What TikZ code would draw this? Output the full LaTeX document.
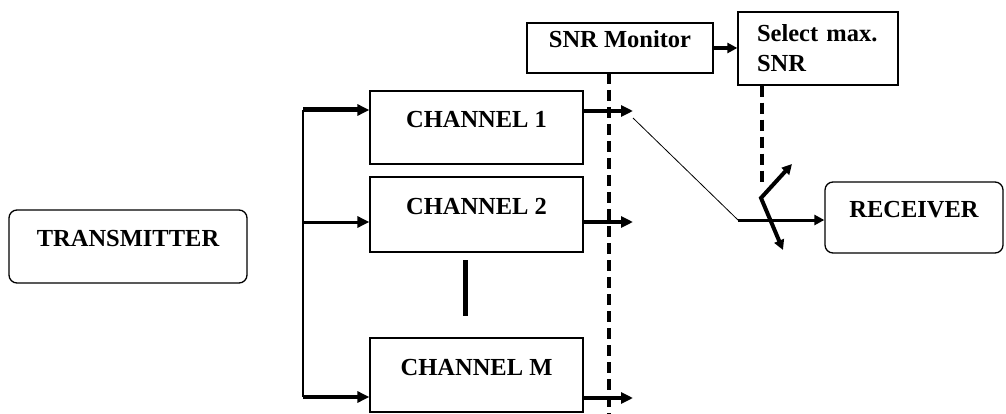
\documentclass[tikz,border=0pt]{standalone}
\usepackage{fontspec}
\setmainfont{Liberation Serif}
\usetikzlibrary{arrows.meta}

\begin{document}
\begin{tikzpicture}[x=1pt,y=-1pt]
			\tikzstyle{block}=[draw=black,line width=1.3pt,inner sep=0pt,font=\fontsize{24.5}{30}\selectfont\bfseries]
			\tikzstyle{rblock}=[block,rounded corners=8pt]
			\tikzstyle{arr}=[-{Triangle[length=12pt,width=11pt]}]
			\tikzstyle{dashline}=[line width=4.5pt,dash pattern=on 11pt off 6pt]
				\useasboundingbox (0,0) rectangle (1006,414);
				% blocks
				\node[rblock,minimum width=238pt,text height=36.5pt,text depth=36.5pt](tx) at (128,246.5){TRANSMITTER};
				\node[block,minimum width=213pt,text height=36.5pt,text depth=36.5pt](ch1) at (476.5,127.5){CHANNEL 1};
				\node[block,minimum width=213pt,text height=37.5pt,text depth=37.5pt](ch2) at (476.5,214.5){CHANNEL 2};
				\node[block,minimum width=213pt,text height=37pt,text depth=37pt](chM) at (476.5,375){CHANNEL M};
				\node[block,minimum width=186pt,text height=25pt,text depth=25pt](snr) at (620,48){SNR Monitor};
				\node[block,minimum height=73pt,text width=122pt,inner xsep=19pt,align=left](sel) at (818,48.5){Select max.\\SNR};
				\node[rblock,minimum width=178pt,text height=35.5pt,text depth=35.5pt](rx) at (914,217.5){RECEIVER};
				% points
				\coordinate (j1) at (303,110);
				\coordinate (j2) at (303,222);
				\coordinate (j3) at (303,397);
				\coordinate (o1) at (633,111);
				\coordinate (o2) at (633,222);
				\coordinate (o3) at (633,398);
				\coordinate (dtop) at (609,73);
				\coordinate (dbot) at (609,414);
				\coordinate (s0) at (762,187);
				\coordinate (p1) at (633,118);
				\coordinate (p2) at (738,220);
				\coordinate (w1) at (783,250);
				\coordinate (w2) at (761,198);
				\coordinate (w3) at (792,164);
				% splitter
				\draw[line width=2pt] (j1) -- (j3);
				\draw[arr,line width=5pt] (j1) -- (j1 -| ch1.west);
				\draw[arr,line width=3pt] (j2) -- (j2 -| ch2.west);
				\draw[arr,line width=4pt] (j3) -- (j3 -| chM.west);
				\draw[line width=5pt] (465,260) -- (465,316);
				% outputs
				\draw[arr,line width=4pt] (o1 -| ch1.east) -- (o1);
				\draw[arr,line width=3.5pt] (o2 -| ch2.east) -- (o2);
				\draw[arr,line width=4pt] (o3 -| chM.east) -- (o3);
				\draw[dashline] (dtop) -- (dbot);
				% selection
				\draw[-{Triangle[length=10pt,width=10pt]},line width=4pt] (snr.east) -- (snr.east -| sel.west);
				\draw[dashline] (sel.south -| s0) -- (s0);
				\draw[line width=0.8pt] (p1) -- (p2);
				\draw[-{Triangle[length=10pt,width=10pt]},line width=3pt] (p2) -- (p2 -| rx.west);
				\draw[{Triangle[length=10pt,width=10pt]}-{Triangle[length=10pt,width=10pt]},line width=4pt] (w1) -- (w2) -- (w3);
			\end{tikzpicture}
\end{document}
